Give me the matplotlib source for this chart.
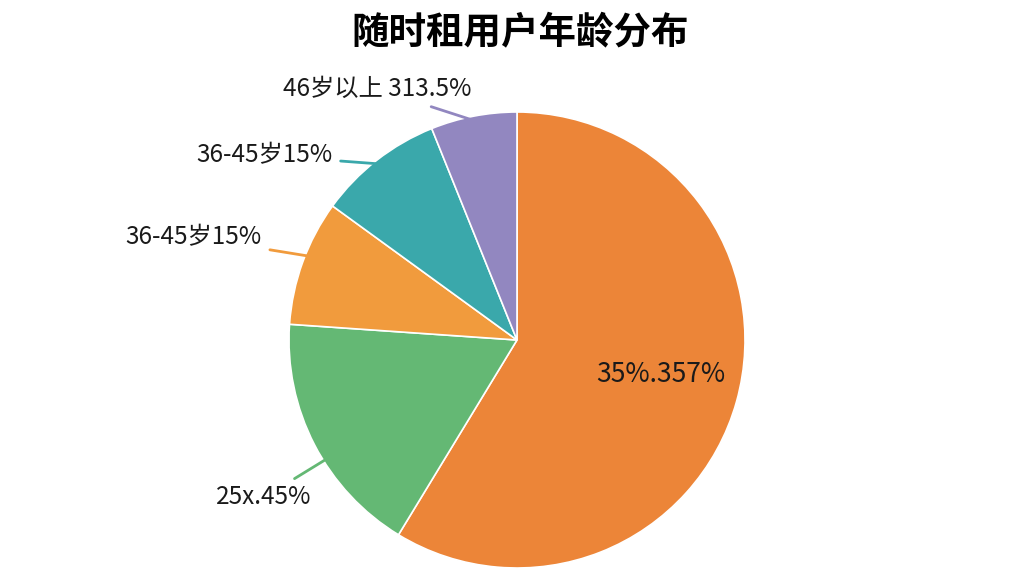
import numpy as np
import matplotlib
matplotlib.use("Agg")
import matplotlib.pyplot as plt

plt.rcParams['font.family'] = ['Noto Sans CJK SC', 'DejaVu Sans']

title = '随时租用户年龄分布'
labels = ['35%.357%', '25x.45%', '36-45岁15%', '36-45岁15%', '46岁以上 313.5%']
values = [58.7, 17.4, 8.9, 8.9, 6.1]
colors = ['#EC8538', '#64B874', '#F19B3D', '#3AA8AB', '#9287C0']

# label placement (data units, pie radius = 1) and anchor angle inside each wedge
label_pos = [(0.63, -0.15), (-0.90, -0.69), (-1.12, 0.45), (-0.81, 0.81), (-0.20, 1.10)]
anchor_ang = [None, 212, 158, 128, 101]

fig = plt.figure(figsize=(10.24, 5.76), dpi=100)
fig.text(0.508, 0.945, title, ha='center', va='center', fontsize=27, fontweight='bold')

ax = fig.add_axes([289 / 1024, 8 / 576, 456 / 1024, 456 / 576])
wedges, _ = ax.pie(values, colors=colors, startangle=90, counterclock=False,
                   wedgeprops=dict(edgecolor='white', linewidth=1.2))
ax.set_xlim(-1, 1)
ax.set_ylim(-1, 1)
ax.set_aspect('equal')
ax.axis('off')

for i, w in enumerate(wedges):
    tx, ty = label_pos[i]
    if anchor_ang[i] is None:
        ax.text(tx, ty, labels[i], ha='center', va='center', fontsize=19, color='#1a1a1a')
        continue
    a = np.deg2rad(anchor_ang[i])
    ax.annotate(labels[i], xy=(0.98 * np.cos(a), 0.98 * np.sin(a)), xytext=(tx, ty),
                ha='right', va='center', fontsize=17.5, color='#1a1a1a',
                annotation_clip=False,
                arrowprops=dict(arrowstyle='-', color=colors[i], lw=2,
                                shrinkA=4, shrinkB=0))

fig.savefig('out.png', dpi=100, facecolor='white')
